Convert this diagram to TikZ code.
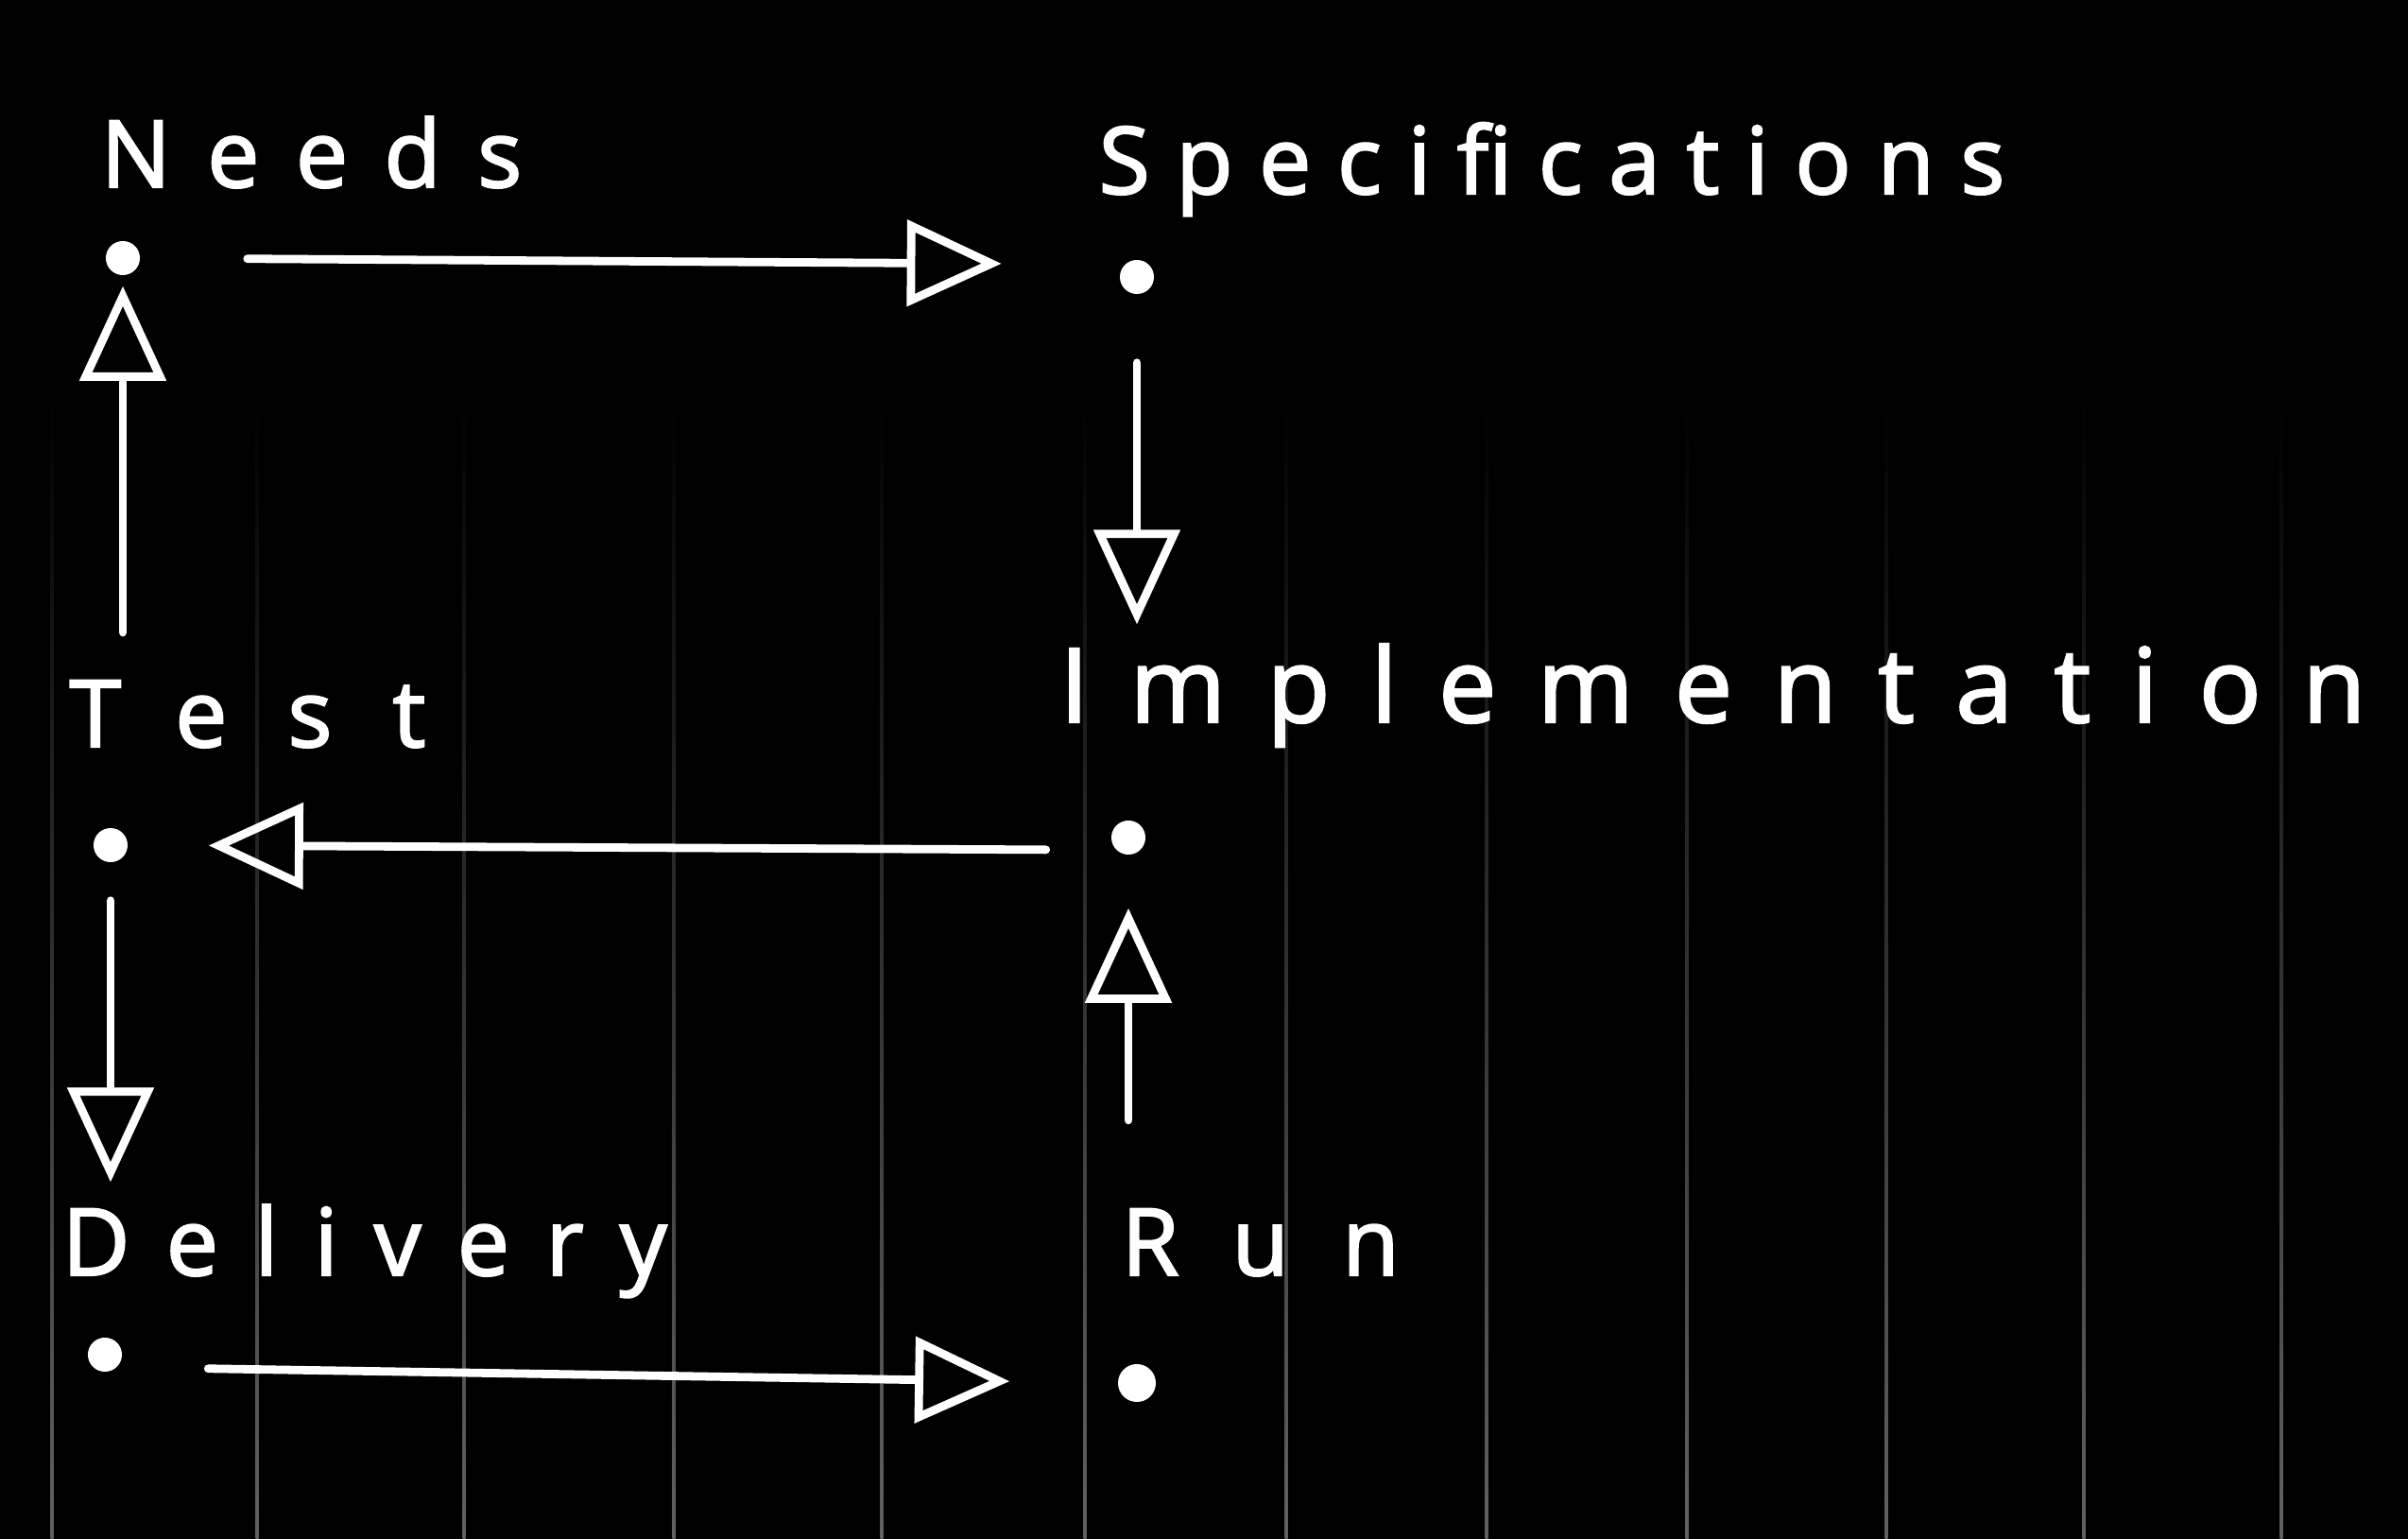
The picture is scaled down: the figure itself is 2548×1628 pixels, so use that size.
\documentclass[tikz,border=0pt]{standalone}
\usepackage{fontspec}
\setmainfont{Open Sans}[FakeBold=2.2]
\usetikzlibrary{arrows.meta}
\begin{document}
\begin{tikzpicture}[x=0.01cm,y=-0.01cm,
  lbl/.style={text=white, anchor=base west, inner sep=0pt,
    font={\fontsize{28}{32}\selectfont\addfontfeature{LetterSpace=#1}}},
  biglbl/.style={text=white, anchor=base west, inner sep=0pt,
    font={\fontsize{31}{35}\selectfont\addfontfeature{LetterSpace=#1}}},
  pt/.style={circle, fill=white, draw=none, minimum size=0.36cm, inner sep=0pt},
  arr/.style={draw=white, line width=2.5pt, line cap=round,
    -{Triangle[open, length=1cm, width=0.9cm, line width=2.5pt]}},
  rule/.style={top color=black, bottom color=black!62!white, draw=none}
]
\fill[black] (0,0) rectangle (2548,1628);
\useasboundingbox (0,0) rectangle (2548,1628);
% faint paper lines
\foreach \xx in {55,272,491,713,933,1148,1361,1573,1785,1996,2205,2414}{
  \shade[rule] (\xx-1.5,420) rectangle (\xx+1.5,1628);
}
% labels
\node[lbl=39] (needs) at (106,198) {Needs};
\node[lbl=28] (specs) at (1162,205) {Specifications};
\node[biglbl=40] (impl) at (1121,764) {Implementation};
\node[lbl=65] (test) at (73,790) {Test};
\node[lbl=39] (deliv) at (65,1349) {Delivery};
\node[lbl=57] (run) at (1186,1349) {Run};
% dots
\node[pt] (dneeds) at (130,273) {};
\node[pt] (dspecs) at (1203,293) {};
\node[pt] (dtest) at (117,894) {};
\node[pt] (dimpl) at (1194,886) {};
\node[pt] (ddeliv) at (111,1433) {};
\node[pt, minimum size=0.4cm] (drun) at (1203,1463) {};
% connectors
\draw[arr, shorten <=1.13cm, shorten >=1.3cm] (dneeds.east) -- (dspecs.north west);
\draw[arr, shorten <=0.72cm, shorten >=0.2cm] (dspecs) -- (dspecs |- impl.north);
\draw[arr, shorten <=0.74cm, shorten >=0.85cm] (dimpl.south west) -- (dtest.east);
\draw[arr, shorten <=0.5cm, shorten >=0.11cm] (dneeds |- test.north) -- (dneeds);
\draw[arr, shorten <=0.4cm, shorten >=0.23cm] (dtest) -- (dtest |- deliv.north);
\draw[arr, shorten <=0.93cm, shorten >=0.56cm] (dimpl |- run.north) -- (dimpl);
\draw[arr, shorten <=0.96cm, shorten >=1.14cm] (ddeliv.south east) -- (drun.west);
\end{tikzpicture}
\end{document}
